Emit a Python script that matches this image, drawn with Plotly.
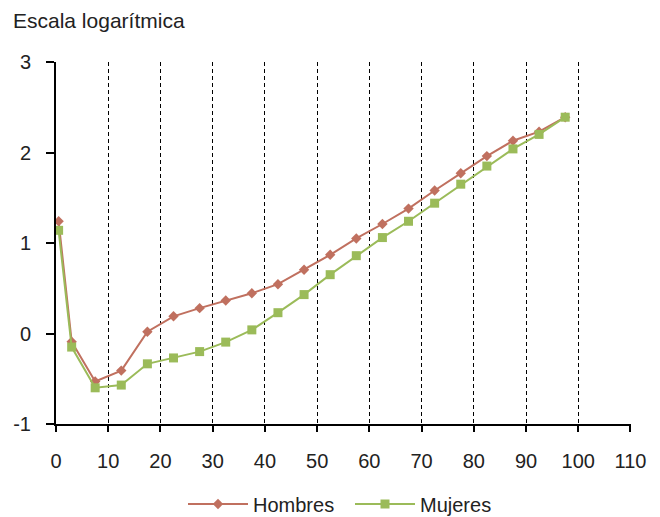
import plotly.graph_objects as go

edades = [0.5, 3, 7.5, 12.5, 17.5, 22.5, 27.5, 32.5, 37.5, 42.5, 47.5, 52.5,
          57.5, 62.5, 67.5, 72.5, 77.5, 82.5, 87.5, 92.5, 97.5]
hombres = [1.24, -0.09, -0.53, -0.41, 0.02, 0.19, 0.28, 0.365, 0.445, 0.545, 0.705, 0.87,
           1.05, 1.21, 1.38, 1.58, 1.77, 1.96, 2.13, 2.23, 2.39]
mujeres = [1.14, -0.15, -0.60, -0.57, -0.335, -0.27, -0.20, -0.095, 0.04, 0.23, 0.43, 0.65,
           0.86, 1.06, 1.24, 1.44, 1.65, 1.85, 2.04, 2.20, 2.39]
x_ticks = [0, 10, 20, 30, 40, 50, 60, 70, 80, 90, 100, 110]
y_ticks = [-1, 0, 1, 2, 3]
y_labels = ["-1", "0", "1", "2", "3"]

FONT = "Liberation Sans, Arial, sans-serif"
W, H = 652, 509  # page body adds an 8px margin

fig = go.Figure()
fig.add_trace(go.Scatter(x=edades, y=hombres, name="Hombres", mode="lines+markers",
                         line=dict(color="#C0705F", width=2),
                         marker=dict(symbol="diamond", size=8, color="#C0705F")))
fig.add_trace(go.Scatter(x=edades, y=mujeres, name="Mujeres", mode="lines+markers",
                         line=dict(color="#9BBB59", width=2),
                         marker=dict(symbol="square", size=9, color="#9BBB59")))

fig.update_layout(
    width=W, height=H,
    margin=dict(l=48, r=29, t=54, b=93),
    paper_bgcolor="white", plot_bgcolor="white",
    font=dict(family=FONT, size=20, color="#222222"),
    title=dict(text="Escala logarítmica", x=5 / W, xanchor="left", xref="container",
               y=1 - 12.5 / H, yanchor="middle", pad=dict(l=0, r=0, t=0, b=0),
               font=dict(family=FONT, size=21, color="#222222")),
    legend=dict(orientation="h", x=(183 - 8 - 48) / 575, xanchor="left", xref="paper",
                y=(H - 496) / H, yanchor="middle", yref="container",
                font=dict(size=20), itemwidth=60, tracegroupgap=0, entrywidth=92),
    xaxis=dict(range=[0, 110.1], tickvals=x_ticks, showgrid=True, gridcolor="black",
               gridwidth=1.3, griddash="4px,3px", showline=True, linecolor="black", linewidth=2,
               ticks="outside", ticklen=6, tickcolor="black", tickwidth=1.5,
               ticklabelstandoff=12, zeroline=False, automargin=False),
    yaxis=dict(range=[-1, 3], tickvals=y_ticks, ticktext=y_labels, showgrid=False, showline=True,
               linecolor="black", linewidth=2, ticks="outside", ticklen=8,
               tickcolor="black", tickwidth=1.5, ticklabelstandoff=11, zeroline=False,
               automargin=False),
)

fig.write_html("out.html")
